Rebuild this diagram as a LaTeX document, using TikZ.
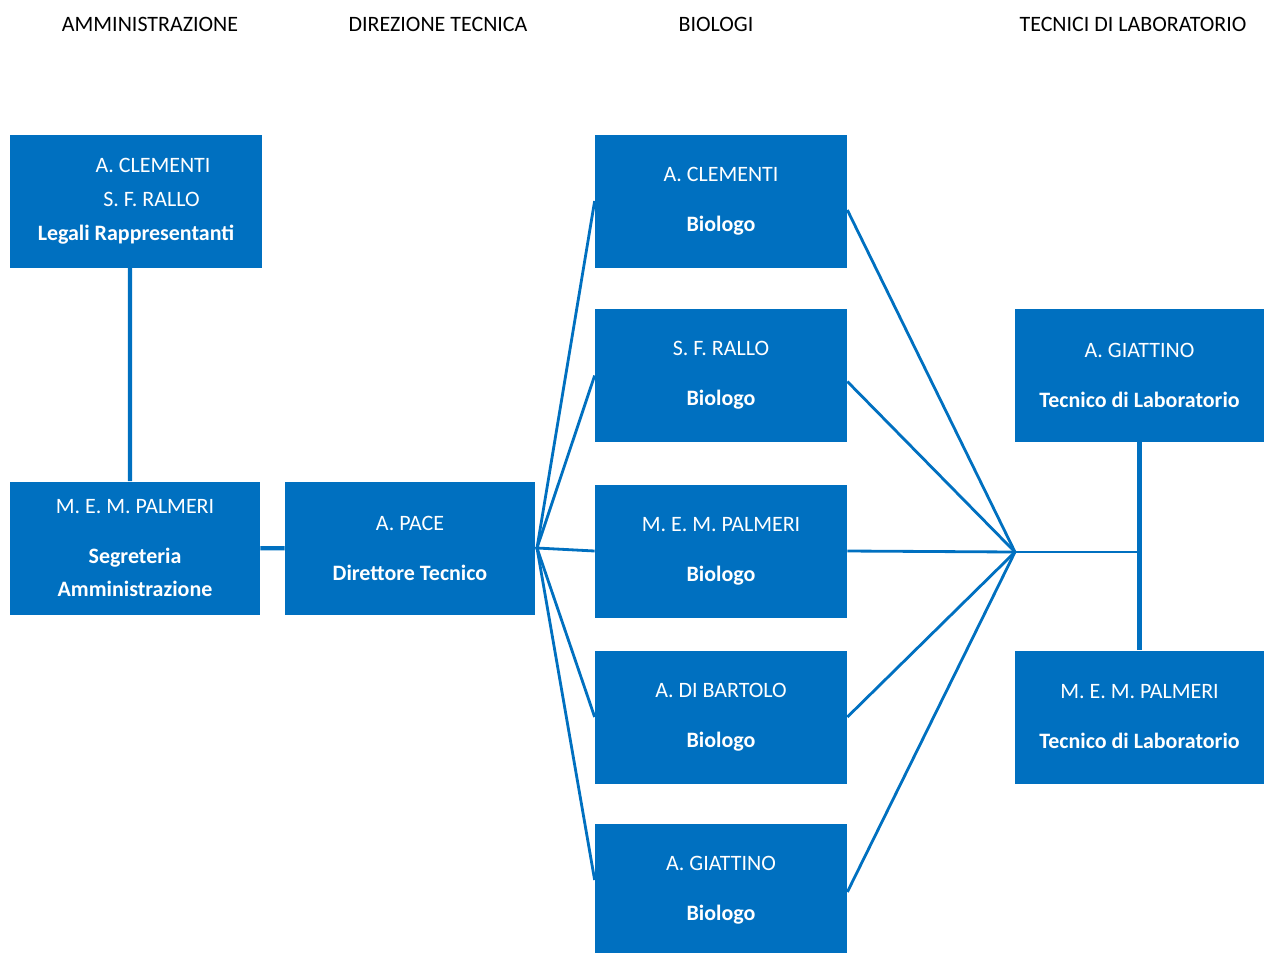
\documentclass[tikz,border=0pt]{standalone}
\usepackage{fontspec}
\setmainfont{Carlito}
\definecolor{boxblue}{HTML}{0070C0}
\begin{document}
\begin{tikzpicture}
                \tikzstyle{every node}=[font=\fontsize{12.5}{16.5}\selectfont, text=black]
                \tikzstyle{box}=[rectangle, fill=boxblue, text=white, align=center, inner sep=0pt, minimum width=5.04cm, minimum height=2.66cm]
                \tikzstyle{edge}=[boxblue, line width=1.6pt]

                \clip (0,0) rectangle (25.28,-19.04);

                \node (hadm) at (3.00,-0.48) {AMMINISTRAZIONE};
                \node (hdir) at (8.76,-0.48) {DIREZIONE TECNICA};
                \node (hbio) at (14.32,-0.48) {BIOLOGI};
                \node (htec) at (22.66,-0.48) {TECNICI DI LABORATORIO};

                \node[box] (legali) at (2.72,-4.02) {\hspace*{0.68cm}A. CLEMENTI\\[0.1cm] \hspace*{0.62cm}S. F. RALLO\\[0.1cm] \textbf{Legali Rappresentanti}};
                \node[box, minimum width=5.0cm] (segr) at (2.70,-10.96) {M. E. M. PALMERI\\[0.42cm] \textbf{Segreteria}\\[0.08cm] \textbf{Amministrazione}};
                \node[box, minimum width=5.0cm] (pace) at (8.20,-10.97) {A. PACE\\[0.42cm] \textbf{Direttore Tecnico}};

                \node[box] (bio1) at (14.42,-4.02) {A. CLEMENTI\\[0.42cm] \textbf{Biologo}};
                \node[box] (bio2) at (14.42,-7.51) {S. F. RALLO\\[0.42cm] \textbf{Biologo}};
                \node[box] (bio3) at (14.42,-11.02) {M. E. M. PALMERI\\[0.42cm] \textbf{Biologo}};
                \node[box] (bio4) at (14.42,-14.34) {A. DI BARTOLO\\[0.42cm] \textbf{Biologo}};
                \node[box] (bio5) at (14.42,-17.80) {A. GIATTINO\\[0.42cm] \textbf{Biologo}};

                \node[box, minimum width=4.98cm] (tec1) at (22.79,-7.50) {A. GIATTINO\\[0.42cm] \textbf{Tecnico di Laboratorio}};
                \node[box, minimum width=4.98cm] (tec2) at (22.79,-14.34) {M. E. M. PALMERI\\[0.42cm] \textbf{Tecnico di Laboratorio}};

                \coordinate (fanl) at (10.74,-10.96);
                \coordinate (fanr) at (20.30,-11.04);
                \coordinate (tecj) at (tec1.south |- fanr);

                \draw[edge, line width=2.4pt] ([xshift=-0.12cm]legali.south) -- ([xshift=-0.10cm]segr.north);
                \draw[edge, line width=2.4pt] (segr) -- (pace);
                \draw[edge] (pace.east) -- (fanl);
                \draw[edge] (fanl) -- (bio1.west);
                \draw[edge] (fanl) -- (bio2.west);
                \draw[edge] (fanl) -- (bio3.west);
                \draw[edge] (fanl) -- (bio4.west);
                \draw[edge] (fanl) -- ([yshift=0.2cm]bio5.west);

                \draw[edge] ([yshift=-0.18cm]bio1.east) -- (fanr);
                \draw[edge] ([yshift=-0.12cm]bio2.east) -- (fanr);
                \draw[edge] (bio3.east) -- (fanr);
                \draw[edge] (bio4.east) -- (fanr);
                \draw[edge] ([yshift=-0.04cm]bio5.east) -- (fanr);
                \draw[edge] (fanr) -- (tecj);
                \draw[edge, line width=2.4pt] (tec1) -- (tec2);
            \end{tikzpicture}
\end{document}
